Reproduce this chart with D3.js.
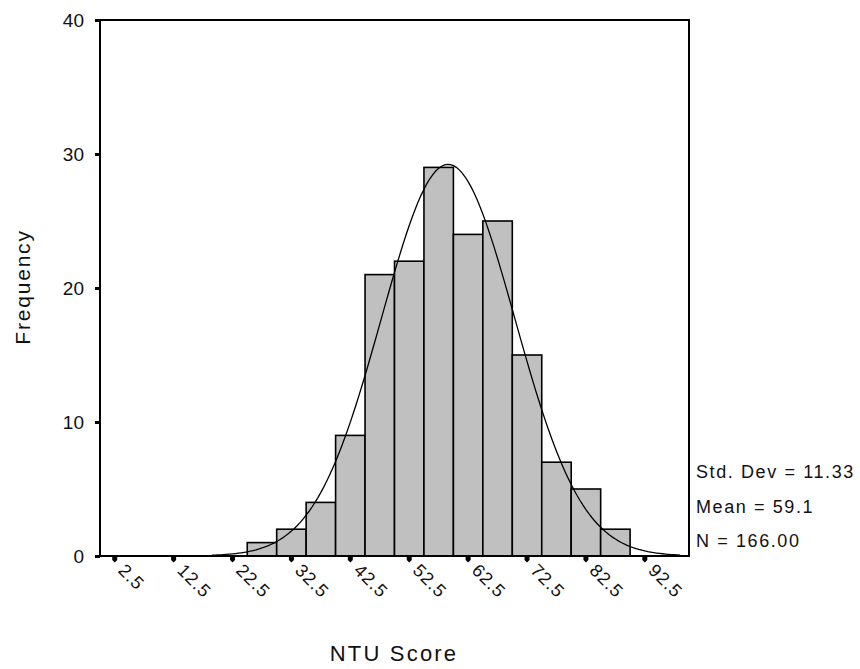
<!DOCTYPE html>
<html>
<head>
<meta charset="utf-8">
<script src="https://cdn.jsdelivr.net/npm/d3@7"></script>
<style>
  body { margin: 0; background: #fff; }
  text { font-family: "Liberation Sans", Arial, sans-serif; fill: #111; }
</style>
</head>
<body>
<script>
// histogram bins (lower edge) and counts
var binStarts = [25, 30, 35, 40, 45, 50, 55, 60, 65, 70, 75, 80, 85];
var counts = [1, 2, 4, 9, 21, 22, 29, 24, 25, 15, 7, 5, 2];
var binWidth = 5;
var xTicks = [2.5, 12.5, 22.5, 32.5, 42.5, 52.5, 62.5, 72.5, 82.5, 92.5];
var yTicks = [0, 10, 20, 30, 40];
var statLabels = ['Std. Dev = 11.33', 'Mean = 59.1', 'N = 166.00'];
var stdDev = 11.33, mean = 59.1, n = 166;

var W = 860, H = 669;
var box = { left: 100, top: 20, right: 689, bottom: 556 };

var svg = d3.select('body').append('svg')
  .attr('width', W)
  .attr('height', H);

var x = d3.scaleLinear().domain([0, 100]).range([box.left, box.right]);
var y = d3.scaleLinear().domain([0, 40]).range([box.bottom, box.top]);

// bars
svg.selectAll('rect.bar')
  .data(binStarts)
  .enter()
  .append('rect')
  .attr('class', 'bar')
  .attr('x', function(d) { return x(d); })
  .attr('y', function(d, i) { return y(counts[i]); })
  .attr('width', function(d) { return x(d + binWidth) - x(d); })
  .attr('height', function(d, i) { return y(0) - y(counts[i]); })
  .attr('fill', '#c0c0c0')
  .attr('stroke', '#000')
  .attr('stroke-width', 1.6);

// normal curve from the stats
var curvePts = d3.range(19, 98.6, 0.5).map(function(v) {
  var z = (v - mean) / stdDev;
  var f = n * binWidth * Math.exp(-0.5 * z * z) / (stdDev * Math.sqrt(2 * Math.PI));
  return [v, f];
});
svg.append('path')
  .datum(curvePts)
  .attr('fill', 'none')
  .attr('stroke', '#000')
  .attr('stroke-width', 1.3)
  .attr('d', d3.line()
    .x(function(d) { return x(d[0]); })
    .y(function(d) { return y(d[1]); }));

// frame
svg.append('rect')
  .attr('x', box.left)
  .attr('y', box.top)
  .attr('width', box.right - box.left)
  .attr('height', box.bottom - box.top)
  .attr('fill', 'none')
  .attr('stroke', '#000')
  .attr('stroke-width', 2);

// y axis
var yAxis = svg.append('g')
  .attr('transform', 'translate(' + box.left + ',0)')
  .call(d3.axisLeft(y).tickValues(yTicks).tickSize(5).tickPadding(11));
yAxis.select('.domain').remove();
yAxis.selectAll('.tick line').attr('stroke-width', 3);
yAxis.selectAll('.tick text')
  .style('font-size', '19px')
  .style('font-family', '"Liberation Sans", Arial, sans-serif')
  .attr('fill', '#111');

// x ticks (small pointed marks)
svg.selectAll('path.xtick')
  .data(xTicks)
  .enter()
  .append('path')
  .attr('class', 'xtick')
  .attr('transform', function(d) { return 'translate(' + x(d) + ',' + box.bottom + ')'; })
  .attr('d', 'M-2.5,0h5v4l-2.5,2.5l-2.5,-2.5z')
  .attr('fill', '#000');

svg.selectAll('text.xlab')
  .data(xTicks)
  .enter()
  .append('text')
  .attr('class', 'xlab')
  .attr('transform', function(d) {
    return 'translate(' + (x(d) + 7) + ',' + (box.bottom + 11) + ') rotate(45)';
  })
  .attr('dy', '0.35em')
  .style('font-size', '18px')
  .style('letter-spacing', '1px')
  .text(function(d) { return d; });

// axis titles
svg.append('text')
  .attr('transform', 'translate(30,287) rotate(-90)')
  .attr('text-anchor', 'middle')
  .style('font-size', '21px')
  .style('letter-spacing', '1.8px')
  .text('Frequency');

svg.append('text')
  .attr('x', 394)
  .attr('y', 661)
  .attr('text-anchor', 'middle')
  .style('font-size', '22px')
  .style('letter-spacing', '2.2px')
  .text('NTU Score');

// stats
svg.selectAll('text.stat')
  .data(statLabels)
  .enter()
  .append('text')
  .attr('class', 'stat')
  .attr('x', 696)
  .attr('y', function(d, i) { return 478 + i * 34.5; })
  .style('font-size', '18px')
  .style('letter-spacing', '1.6px')
  .text(function(d) { return d; });
</script>
</body>
</html>
